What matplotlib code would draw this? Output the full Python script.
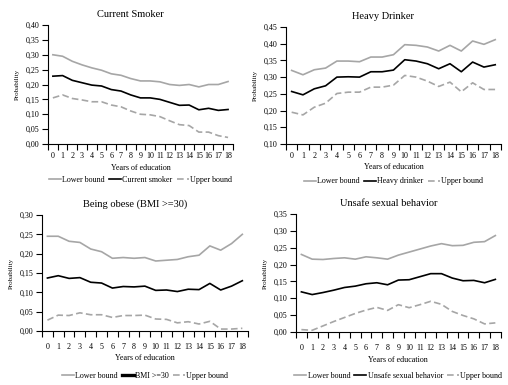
import matplotlib
matplotlib.use("Agg")
import matplotlib.pyplot as plt
from matplotlib.ticker import FixedLocator, FuncFormatter

plt.rcParams['font.family'] = ['Liberation Serif', 'DejaVu Serif']

years = list(range(19))

smoker_lower = [0.300, 0.295, 0.278, 0.266, 0.256, 0.248, 0.236, 0.231, 0.220, 0.212,
                0.212, 0.209, 0.200, 0.197, 0.200, 0.192, 0.200, 0.200, 0.210]
smoker_mid = [0.228, 0.230, 0.214, 0.206, 0.198, 0.195, 0.183, 0.178, 0.165, 0.155,
              0.155, 0.150, 0.140, 0.130, 0.131, 0.115, 0.120, 0.113, 0.116]
smoker_upper = [0.155, 0.165, 0.153, 0.148, 0.142, 0.142, 0.131, 0.125, 0.111, 0.100,
                0.098, 0.092, 0.078, 0.065, 0.062, 0.040, 0.040, 0.028, 0.022]

drinker_lower = [0.320, 0.307, 0.322, 0.327, 0.348, 0.348, 0.346, 0.360, 0.360, 0.367,
                 0.397, 0.395, 0.390, 0.378, 0.395, 0.378, 0.408, 0.398, 0.412]
drinker_mid = [0.257, 0.247, 0.265, 0.274, 0.300, 0.301, 0.300, 0.316, 0.316, 0.321,
               0.352, 0.348, 0.340, 0.325, 0.340, 0.316, 0.345, 0.330, 0.337]
drinker_upper = [0.195, 0.187, 0.210, 0.222, 0.251, 0.255, 0.255, 0.270, 0.270, 0.276,
                 0.305, 0.300, 0.288, 0.272, 0.285, 0.256, 0.283, 0.263, 0.263]

obese_lower = [0.245, 0.245, 0.232, 0.229, 0.212, 0.205, 0.188, 0.190, 0.188, 0.190,
               0.181, 0.183, 0.185, 0.192, 0.196, 0.220, 0.209, 0.226, 0.250]
obese_mid = [0.137, 0.143, 0.136, 0.138, 0.126, 0.124, 0.111, 0.115, 0.114, 0.116,
             0.105, 0.106, 0.102, 0.108, 0.107, 0.123, 0.106, 0.116, 0.130]
obese_upper = [0.028, 0.041, 0.040, 0.047, 0.042, 0.042, 0.035, 0.040, 0.040, 0.041,
               0.031, 0.030, 0.021, 0.024, 0.018, 0.025, 0.005, 0.005, 0.007]

sex_lower = [0.230, 0.216, 0.215, 0.218, 0.220, 0.216, 0.223, 0.220, 0.216, 0.228,
             0.237, 0.246, 0.255, 0.262, 0.256, 0.257, 0.266, 0.268, 0.286]
sex_mid = [0.119, 0.111, 0.117, 0.124, 0.132, 0.136, 0.143, 0.146, 0.140, 0.154,
           0.155, 0.164, 0.173, 0.173, 0.160, 0.152, 0.153, 0.146, 0.156]
sex_upper = [0.007, 0.005, 0.018, 0.031, 0.043, 0.055, 0.065, 0.073, 0.064, 0.081,
             0.072, 0.081, 0.091, 0.082, 0.061, 0.049, 0.039, 0.024, 0.027]

# title, legend name, series, (ymin, ymax, step), axes rect, legend line width,
# x tick pad, xlabel y, legend y (axes fractions)
panels = [
    ("Current Smoker", "Current smoker", smoker_lower, smoker_mid, smoker_upper,
     (0.0, 0.40, 0.05), [0.0945, 0.626, 0.364, 0.309], 1.2, 6, -0.20, -0.30),
    ("Heavy Drinker", "Heavy drinker", drinker_lower, drinker_mid, drinker_upper,
     (0.10, 0.45, 0.05), [0.563, 0.626, 0.423, 0.304], 1.2, 6, -0.20, -0.32),
    ("Being obese (BMI >=30)", "BMI >=30", obese_lower, obese_mid, obese_upper,
     (0.0, 0.30, 0.05), [0.0827, 0.1403, 0.405, 0.3013], 2.4, 9, -0.235, -0.385),
    ("Unsafe sexual behavior", "Unsafe sexual behavior", sex_lower, sex_mid, sex_upper,
     (0.0, 0.35, 0.05), [0.5827, 0.1377, 0.403, 0.3065], 1.2, 9, -0.235, -0.37),
]

fig = plt.figure(figsize=(5.08, 3.85), dpi=100)

for title, name, lo, mid, up, (ymin, ymax, step), rect, leg_lw, xpad, xlab_y, leg_y in panels:
    ax = fig.add_axes(rect)
    ax.plot(years, lo, color='#a6a6a6', lw=1.2, label='Lower bound')
    ax.plot(years, mid, color='black', lw=1.2, label=name)
    ax.plot(years, up, color='#a6a6a6', lw=1.2, ls=(0, (4, 2)), label='Upper bound')

    ax.set_xlim(-0.5, 18.5)
    ax.set_ylim(ymin, ymax)
    n = int(round((ymax - ymin) / step))
    ax.set_yticks([ymin + i * step for i in range(n + 1)])
    ax.yaxis.set_major_formatter(FuncFormatter(lambda v, p: f"{v:.2f}".replace('.', ',')))
    ax.set_xticks(years)
    ax.xaxis.set_minor_locator(FixedLocator([y - 0.5 for y in range(20)]))
    ax.tick_params(axis='x', which='major', length=0, labelsize=5.8, pad=xpad)
    ax.tick_params(axis='x', which='minor', length=4, width=0.8)
    ax.tick_params(axis='y', length=4, width=0.8, labelsize=5.8, pad=2)

    for s in ['top', 'right']:
        ax.spines[s].set_visible(False)
    ax.spines['left'].set_linewidth(0.8)
    ax.spines['bottom'].set_linewidth(0.8)

    # titles sit a little left of the plot centre in the original
    ax.set_title(title, fontsize=7.5, pad=6, x=0.5 - 10 / (rect[2] * 508))
    ax.set_ylabel("Probability", fontsize=5)
    ax.set_xlabel("Years of education", fontsize=5.8)
    ax.xaxis.set_label_coords(0.5, xlab_y)
    ax.xaxis.label.set_va('center')

    leg = ax.legend(loc='center', bbox_to_anchor=(0.5, leg_y), ncol=3,
                    frameon=False, fontsize=5.8, handlelength=1.5, handletextpad=0.15,
                    columnspacing=0.5)
    leg.get_lines()[1].set_linewidth(leg_lw)

fig.savefig("out.png", dpi=100)
